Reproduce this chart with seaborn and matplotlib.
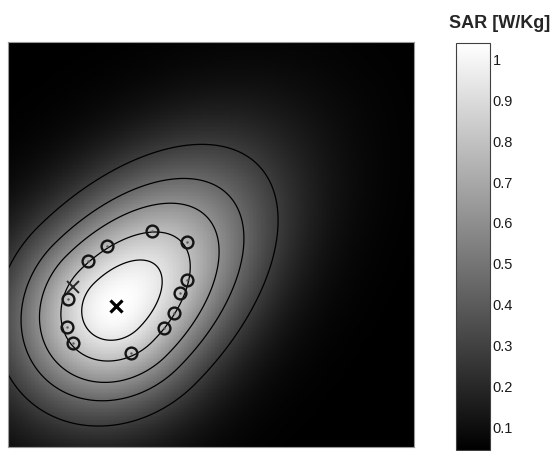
import numpy as np
import matplotlib
matplotlib.use("Agg")
import matplotlib.pyplot as plt
import seaborn as sns

# map area in arbitrary units (0..100 on both axes, y upward)
extent = 100.0
grid_n = 300

# SAR field: floor / peak values, peak position, spreads
sar_floor = 0.045
sar_peak = 1.04
peak_x, peak_y = 26.6, 34.8
spread_up_right = 41.1
spread_down_left = 26.4
spread_minor = 22.8
tilt_deg = 45.0

contour_levels = [0.28, 0.45, 0.60, 0.78, 0.93]

# measurement points (circles) on the 0.78 contour
circle_x = [35.5, 44.0, 24.3, 19.8, 44.0, 42.4, 14.7, 40.9, 38.5, 14.6, 16.1, 30.3]
circle_y = [53.3, 50.5, 49.6, 45.9, 41.2, 38.0, 36.5, 33.2, 29.5, 29.7, 25.6, 23.3]

# peak location and estimated location (crosses)
cross_x = [26.6, 16.0]
cross_y = [34.8, 39.5]

cbar_ticks = [0.1, 0.2, 0.3, 0.4, 0.5, 0.6, 0.7, 0.8, 0.9, 1.0]

# build the field on the grid (top row = largest y, like the heatmap rows)
xs = (np.arange(grid_n) + 0.5) * extent / grid_n
ys = extent - (np.arange(grid_n) + 0.5) * extent / grid_n
gx, gy = np.meshgrid(xs, ys)
dx, dy = gx - peak_x, gy - peak_y
t = np.deg2rad(tilt_deg)
u = dx * np.cos(t) + dy * np.sin(t)
v = -dx * np.sin(t) + dy * np.cos(t)
su = np.where(u > 0, spread_up_right, spread_down_left)
sar = sar_floor + (sar_peak - sar_floor) * np.exp(-((u / su) ** 2 + (v / spread_minor) ** 2))


def to_cells(x, y):
    x = np.asarray(x) * grid_n / extent
    y = (extent - np.asarray(y)) * grid_n / extent
    return x, y


sns.set_theme(style="white")
plt.rcParams['font.family'] = ['Liberation Sans', 'DejaVu Sans']

fig = plt.figure(figsize=(5.57, 4.51), dpi=100)
ax = fig.add_axes([8 / 557, 4 / 451, 406 / 557, 405 / 451])
cax = fig.add_axes([456 / 557, 1 / 451, 34 / 557, 407 / 451])

sns.heatmap(sar, ax=ax, cbar_ax=cax, cmap='gray', vmin=sar.min(), vmax=sar.max(),
            xticklabels=False, yticklabels=False, rasterized=True)

cells = np.arange(grid_n) + 0.5
ax.contour(cells, cells, sar, levels=contour_levels, colors='black', linewidths=0.9)

cx, cy = to_cells(circle_x, circle_y)
ax.plot(cx, cy, 'o', ms=8.5, mfc='none', mec='0.08', mew=1.7)
ax.plot(cx, cy, '.', ms=1.5, color='0.35')

kx, ky = to_cells(cross_x, cross_y)
ax.plot(kx[:1], ky[:1], 'x', ms=8, mew=2.3, color='black')
ax.plot(kx[1:], ky[1:], 'x', ms=8, mew=1.4, color='0.15')

ax.set_xlim(0, grid_n)
ax.set_ylim(grid_n, 0)
for s in ax.spines.values():
    s.set_visible(True)
    s.set_color('0.6')
    s.set_linewidth(0.8)

cbar = ax.collections[0].colorbar
cbar.set_ticks(cbar_ticks)
cbar.set_ticklabels([f"{tk:g}" for tk in cbar_ticks])
cbar.outline.set_linewidth(0.8)
cbar.outline.set_edgecolor('0.25')
cax.minorticks_off()
cax.tick_params(axis='y', direction='in', left=True, right=True, labelleft=False,
                labelright=True, length=5, width=0.7, color='0.35',
                labelsize=10.5, labelcolor='0.1', pad=2)

fig.text(500 / 557, 1 - 28 / 451, 'SAR [W/Kg]', ha='center', va='baseline',
         fontsize=13, fontweight='bold')

fig.savefig('out.png', dpi=100)
